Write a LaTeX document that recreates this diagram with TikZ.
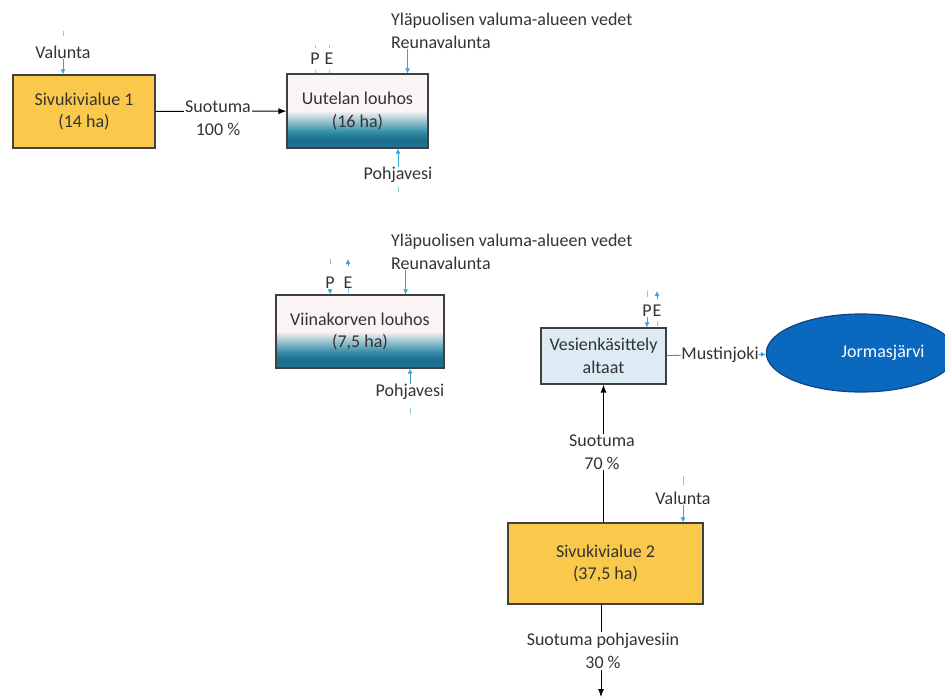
\documentclass[tikz,border=0pt]{standalone}
\usepackage{fontspec}
\setmainfont{Carlito}
\usetikzlibrary{shapes,calc,arrows.meta}
\definecolor{sivuyellow}{RGB}{250,200,74}
\definecolor{edgegray}{RGB}{64,64,64}
\definecolor{pinkwhite}{RGB}{250,244,244}
\definecolor{midteal}{RGB}{52,142,168}
\definecolor{waterteal}{RGB}{27,110,140}
\definecolor{waterlow}{RGB}{30,116,146}
\definecolor{poolblue}{RGB}{220,235,244}
\definecolor{lakeblue}{RGB}{10,104,190}
\definecolor{lakeedge}{RGB}{12,70,130}
\definecolor{inblue}{RGB}{52,166,214}
\pgfdeclareverticalshading{louhosfade}{100bp}{color(0bp)=(waterlow); color(25bp)=(waterlow);
  color(31bp)=(waterteal); color(36bp)=(midteal); color(50bp)=(pinkwhite); color(100bp)=(pinkwhite)}

\begin{document}
\begin{tikzpicture}[x=1pt,y=-1pt,
  every node/.append style={font=\fontsize{18}{22.5}\selectfont,text=black!80}]
  \tikzstyle{word} = [inner sep=0pt,align=center]
  \tikzstyle{tag} = [inner sep=1pt,align=center,fill=white]
  \tikzstyle{sivu} = [draw=edgegray,line width=1.2pt,fill=sivuyellow,align=center]
  \tikzstyle{louhos} = [draw=edgegray,line width=1.2pt,shade,shading=louhosfade,align=center]
  \tikzstyle{allas} = [draw=edgegray,line width=1.2pt,fill=poolblue,align=center]
  \tikzstyle{lake} = [ellipse,draw=lakeedge,line width=1.2pt,fill=lakeblue,text=white]
  \tikzstyle{seep} = [-{Latex[length=8pt,width=6pt]},black,line width=0.9pt]
  \tikzstyle{feed} = [-{Latex[length=5pt,width=5pt]},inblue,line width=0.8pt]
  \tikzstyle{stub} = [inblue!60,line width=0.8pt]
  \tikzstyle{link} = [gray,line width=0.8pt]
  \useasboundingbox (0,0) rectangle (945,700);

  \node (s1) [sivu,minimum width=142pt,minimum height=73pt] at (84,111.5) {Sivukivialue 1\\(14 ha)};
  \node (u1) [louhos,minimum width=141pt,minimum height=74pt] at (357.5,111) {Uutelan louhos\\(16 ha)};
  \node (v1) [louhos,minimum width=168pt,minimum height=73pt] at (360,331.5) {Viinakorven louhos\\(7,5 ha)};
  \node (a1) [allas,minimum width=125pt,minimum height=56pt] at (603.5,356) {Vesienkäsittely\\altaat};
  \node (s2) [sivu,minimum width=195pt,minimum height=81pt] at (605.5,563.5) {Sivukivialue 2\\(37,5 ha)};
  \node (j) [lake,minimum width=166pt,minimum height=78pt] at (861,353) {\hspace*{44pt}Jormasjärvi};

  \node (val1) [word] at (63,52) {Valunta};
  \draw[stub] ($(val1.north)+(0,-9)$) -- ++(0,-5);
  \draw[feed] (val1) -- (val1 |- s1.north);

  \draw[seep] (s1) -- (u1);
  \node (sl1) [tag] at (218,118) {Suotuma\\100 \%};

  \node (pu) [word] at (315,59) {P};
  \node (eu) [word] at (329,59) {E};
  \draw[stub] ($(pu.north)+(0,-5)$) -- ++(0,-3);
  \draw[stub] ($(eu.north)+(0,-5)$) -- ++(0,-3);
  \draw[stub] ($(pu.south)+(0,5)$) -- ++(0,3);
  \draw[stub] ($(eu.south)+(0,5)$) -- ++(0,3);

  \node (yl1) [word,align=left,anchor=west] at (391,31) {Yläpuolisen valuma-alueen vedet\\Reunavalunta};
  \coordinate (u1in) at ($(u1.north east)+(-21,0)$);
  \draw[feed] (u1in |- yl1.south) -- (u1in);

  \node (pv1) [word] at (398,175) {Pohjavesi};
  \draw[feed] (pv1) -- (pv1 |- u1.south);
  \draw[stub] ($(pv1.south)+(0,4)$) -- ++(0,5);

  \node (p2) [word] at (330,283) {P};
  \node (e2) [word] at (348,283) {E};
  \draw[stub] ($(p2.north)+(0,-13)$) -- ++(0,-5);
  \draw[feed] (p2) -- (p2 |- v1.north);
  \draw[feed] ($(e2.north)+(0,-11)$) -- ++(0,-7);
  \draw[stub] ($(v1.north -| e2)+(0,-1)$) -- ++(0,-5);

  \node (yl2) [word,align=left,anchor=west] at (391,252) {Yläpuolisen valuma-alueen vedet\\Reunavalunta};
  \coordinate (v1in) at ($(v1.north east)+(-39,0)$);
  \draw[feed] (v1in |- yl2.south) -- (v1in);

  \node (pv2) [word] at (410,392) {Pohjavesi};
  \draw[feed] (pv2) -- (pv2 |- v1.south);
  \draw[stub] ($(pv2.south)+(0,8)$) -- ++(0,6);

  \node (pa) [word] at (647,311) {P};
  \node (ea) [word] at (657,311) {E};
  \draw[stub] ($(pa.north)+(0,-8)$) -- ++(0,-6);
  \draw[feed] (pa) -- (pa |- a1.north);
  \draw[feed] ($(ea.north)+(0,-6)$) -- ++(0,-8);
  \draw[stub] ($(a1.north -| ea)+(0,-1)$) -- ++(0,-5);

  \node (mj) [word] at (720,355) {Mustinjoki};
  \draw[link] (a1) -- (mj);
  \draw[feed] (mj) -- (j);

  \draw[seep] (a1.south |- s2.north) -- (a1.south);
  \node (sl2) [tag] at (602,452) {Suotuma\\70 \%};

  \node (val2) [word] at (683,498) {Valunta};
  \draw[stub] ($(val2.north)+(0,-6)$) -- ++(0,-9);
  \draw[feed] (val2) -- (val2 |- s2.north);

  \coordinate (sink) at (601,697);
  \draw[seep] (s2.south -| sink) -- (sink);
  \node (sl3) [tag] at (603,651) {Suotuma pohjavesiin\\30 \%};
\end{tikzpicture}
\end{document}
